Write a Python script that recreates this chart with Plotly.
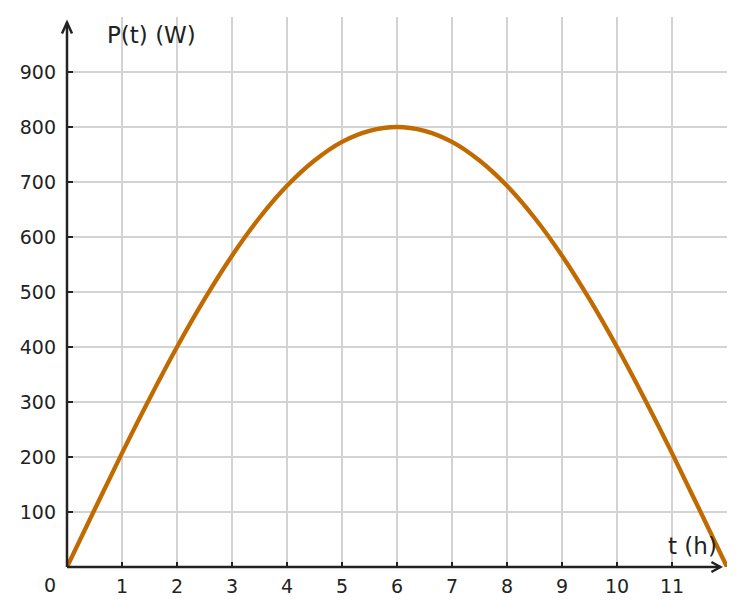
import plotly.graph_objects as go

# Data (power in W vs time in h)
t_hours = [0, 0.5, 1, 1.5, 2, 2.5, 3, 3.5, 4, 4.5, 5, 5.5, 6,
           6.5, 7, 7.5, 8, 8.5, 9, 9.5, 10, 10.5, 11, 11.5, 12]
power_w = [0, 104, 207, 306, 400, 487, 566, 635, 693, 739, 773, 793, 800,
           793, 773, 739, 693, 635, 566, 487, 400, 306, 207, 104, 0]
x_ticks = [1, 2, 3, 4, 5, 6, 7, 8, 9, 10, 11]
y_ticks = [100, 200, 300, 400, 500, 600, 700, 800, 900]

FONT = "DejaVu Sans"
AX = "#222222"
TXT = "#222222"
TICK_SIZE = 19

fig = go.Figure()
fig.add_trace(go.Scatter(
    x=t_hours, y=power_w, mode="lines",
    line=dict(color="#c06a00", width=4.3, shape="spline", smoothing=1.0),
    cliponaxis=False, hoverinfo="skip", showlegend=False))

fig.update_layout(
    width=744, height=615,
    margin=dict(l=67, r=17, t=17, b=48),
    plot_bgcolor="white", paper_bgcolor="white",
    font=dict(family=FONT, size=TICK_SIZE, color=TXT),
    xaxis=dict(range=[0, 12], tickvals=x_ticks, showgrid=True,
               gridcolor="#d3d3d3", gridwidth=1.5, zeroline=False,
               showline=False, ticks="inside", ticklen=5, tickwidth=2,
               tickcolor=AX, ticklabelstandoff=6,
               tickfont=dict(family=FONT, size=TICK_SIZE, color=TXT)),
    yaxis=dict(range=[0, 1000], tickvals=y_ticks, showgrid=True,
               gridcolor="#d3d3d3", gridwidth=1.5, zeroline=False,
               showline=False, ticks="inside", ticklen=6, tickwidth=2,
               tickcolor=AX, ticklabelstandoff=10,
               tickfont=dict(family=FONT, size=TICK_SIZE, color=TXT)),
)

# axis lines (paper coordinates so they are not clipped)
x_tip = 11.88 / 12
y_tip = 0.99
fig.add_shape(type="line", xref="paper", yref="paper", x0=0, y0=0, x1=x_tip, y1=0,
              line=dict(color=AX, width=2.5), layer="above")
fig.add_shape(type="line", xref="paper", yref="paper", x0=0, y0=0, x1=0, y1=y_tip,
              line=dict(color=AX, width=2.5), layer="above")
# arrow heads (pixel-sized chevrons)
fig.add_shape(type="path", xref="paper", yref="paper", xsizemode="pixel", ysizemode="pixel",
              xanchor=x_tip, yanchor=0, path="M -9,5 L 0,0 L -9,-5",
              line=dict(color=AX, width=2.5), layer="above")
fig.add_shape(type="path", xref="paper", yref="paper", xsizemode="pixel", ysizemode="pixel",
              xanchor=0, yanchor=y_tip, path="M -5,-11 L 0,0 L 5,-11",
              line=dict(color=AX, width=2.5), layer="above")

# labels
fig.add_annotation(x=0.69, y=967, xref="x", yref="y", text="P(t) (W)",
                   showarrow=False, xanchor="left", yanchor="middle",
                   font=dict(family=FONT, size=23, color=TXT))
fig.add_annotation(x=11.86, y=38, xref="x", yref="y", text="t (h)",
                   showarrow=False, xanchor="right", yanchor="middle",
                   font=dict(family=FONT, size=23, color=TXT))
fig.add_annotation(x=0, y=0, xref="x", yref="y", text="0",
                   showarrow=False, xshift=-17, yshift=-18,
                   font=dict(family=FONT, size=TICK_SIZE, color=TXT))

fig.write_html("out.html")
